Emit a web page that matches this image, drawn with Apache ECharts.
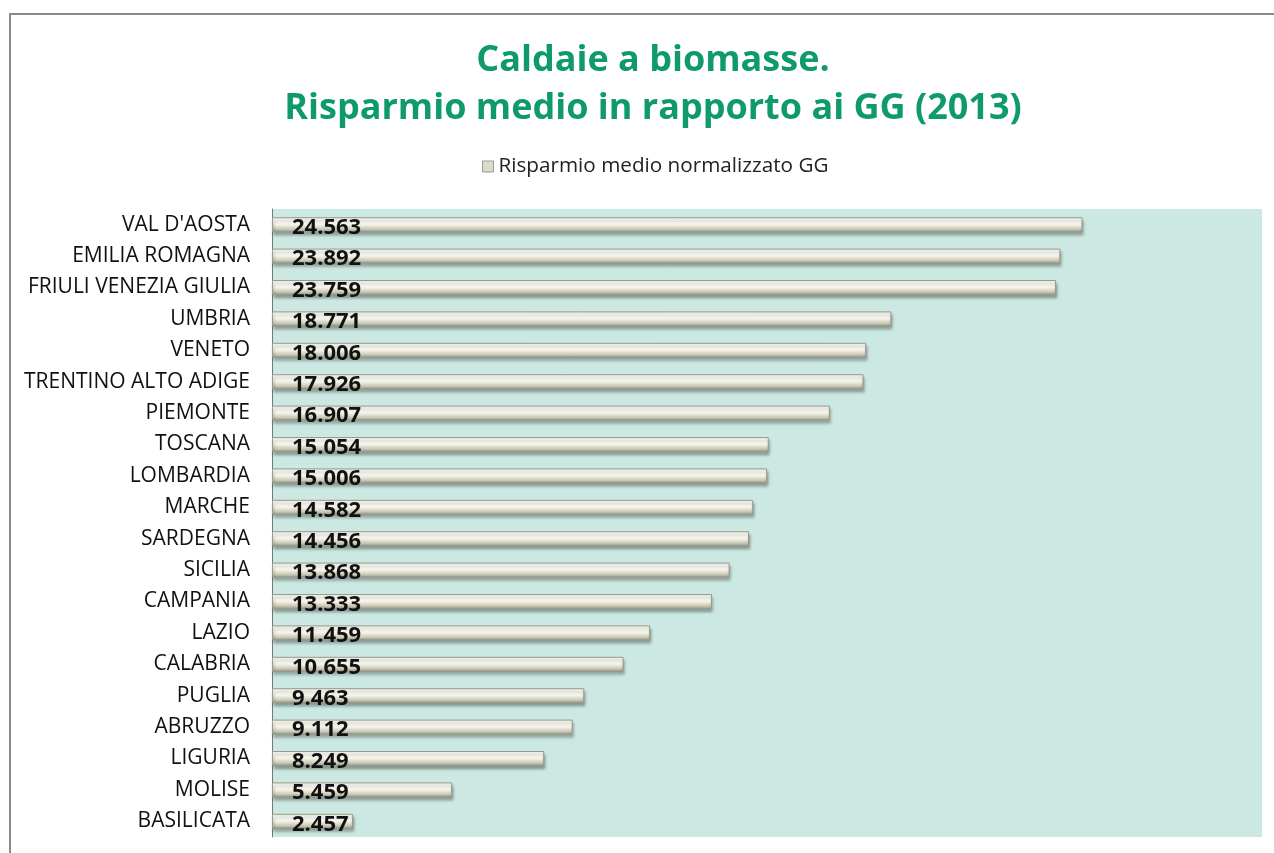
<!DOCTYPE html>
<html><head><meta charset="utf-8">
<script src="https://cdn.jsdelivr.net/npm/echarts@6/dist/echarts.min.js"></script>
<style>html,body{margin:0;padding:0;background:#fff}#c{width:1274px;height:853px}</style>
</head><body><div id="c"></div>
<script>
const categories = ["VAL D'AOSTA","EMILIA ROMAGNA","FRIULI VENEZIA GIULIA","UMBRIA","VENETO","TRENTINO ALTO ADIGE","PIEMONTE","TOSCANA","LOMBARDIA","MARCHE","SARDEGNA","SICILIA","CAMPANIA","LAZIO","CALABRIA","PUGLIA","ABRUZZO","LIGURIA","MOLISE","BASILICATA"];
const values = [24.563,23.892,23.759,18.771,18.006,17.926,16.907,15.054,15.006,14.582,14.456,13.868,13.333,11.459,10.655,9.463,9.112,8.249,5.459,2.457];
const seriesName = 'Risparmio medio normalizzato GG';
const titleText = 'Caldaie a biomasse.\nRisparmio medio in rapporto ai GG (2013)';

const chart = echarts.init(document.getElementById('c'));
chart.setOption({
  animation:false,
  backgroundColor:'#fff',
  title:{text:titleText,left:648,top:32,textAlign:'center',
    textStyle:{fontFamily:'Open Sans',fontSize:36,fontWeight:'bold',color:'#0f9a6e',lineHeight:48}},
  legend:{top:151,left:477,itemWidth:11,itemHeight:11,icon:'rect',itemGap:8,
    textStyle:{fontFamily:'Open Sans',fontSize:20.7,color:'#222'},
    itemStyle:{color:'#dcdccc',borderColor:'#999',borderWidth:1}},
  graphic:[{type:'rect',shape:{x:10,y:14,width:1400,height:1000},style:{fill:'none',stroke:'#8a8a8a',lineWidth:2},z:-1}],
  grid:{left:272,right:12,top:209,bottom:16,show:true,backgroundColor:'#cbe9e2',borderWidth:0},
  xAxis:{type:'value',min:0,max:30,show:false},
  yAxis:{type:'category',data:categories,inverse:true,
    axisLine:{show:true,lineStyle:{color:'#777',width:1}},axisTick:{show:false},
    axisLabel:{margin:22,fontFamily:'Open Sans',fontSize:21,color:'#111'}},
  series:[{name:seriesName,type:'bar',data:values,barWidth:15,
    itemStyle:{
      color:{type:'linear',x:0,y:0,x2:0,y2:1,colorStops:[
        {offset:0,color:'#ecebd9'},{offset:0.2,color:'#ffffff'},{offset:0.5,color:'#f4f3e6'},
        {offset:0.8,color:'#c9c8b6'},{offset:1,color:'#8f8f80'}]},
      borderColor:'#9a9a8a',borderWidth:1,
      shadowColor:'rgba(0,0,0,0.35)',shadowBlur:3,shadowOffsetY:3,shadowOffsetX:1},
    label:{show:true,position:'insideLeft',offset:[15,3],formatter:p=>p.value.toFixed(3),
      fontFamily:'Open Sans',fontSize:22,fontWeight:'bold',color:'#111'}}]
});
</script></body></html>
